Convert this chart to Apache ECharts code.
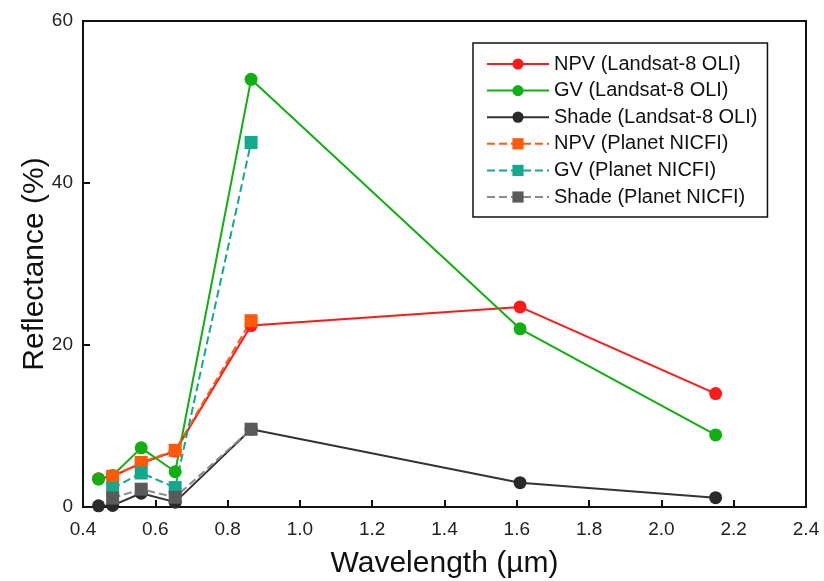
<!DOCTYPE html>
<html>
<head>
<meta charset="utf-8">
<title>Reflectance</title>
<script src="https://cdn.jsdelivr.net/npm/echarts@6/dist/echarts.min.js"></script>
</head>
<body style="margin:0">
<div id="main" style="width:824px;height:581px;"></div>
<script type="text/javascript">
// wavelengths (µm)
var wlLandsat = [0.443, 0.482, 0.561, 0.655, 0.865, 1.609, 2.15];
var wlPlanet = [0.482, 0.561, 0.655, 0.865];

// reflectance (%)
var npvLandsat = [3.5, 3.8, 5.4, 6.9, 22.4, 24.7, 14.0];
var gvLandsat = [3.45, 3.9, 7.3, 4.35, 52.8, 22.0, 8.9];
var shadeLandsat = [0.15, 0.2, 1.7, 0.6, 9.6, 3.0, 1.15];
var npvPlanet = [3.8, 5.5, 7.0, 23.0];
var gvPlanet = [2.3, 4.2, 2.4, 45.0];
var shadePlanet = [1.1, 2.2, 1.2, 9.6];

var names = [
	'NPV (Landsat-8 OLI)', 'GV (Landsat-8 OLI)', 'Shade (Landsat-8 OLI)',
	'NPV (Planet NICFI)', 'GV (Planet NICFI)', 'Shade (Planet NICFI)'
];

function pairs(xs, ys) {
	return xs.map(function(x, i) { return [x, ys[i]]; });
}

function makeSeries(name, xs, ys, lineColor, dotColor, dashed) {
	return {
		name: name,
		type: 'line',
		data: pairs(xs, ys),
		symbol: dashed ? 'rect' : 'circle',
		symbolSize: 13,
		clip: false,
		lineStyle: { color: lineColor, width: 2, type: dashed ? [8, 4] : 'solid' },
		itemStyle: { color: dotColor },
		emphasis: { disabled: true },
		animation: false
	};
}

var myChart = echarts.init(document.getElementById('main'));
var font = '"Liberation Sans", Arial, sans-serif';

var option = {
	textStyle: { fontFamily: font },
	grid: {
		left: 83, right: 18, top: 21, bottom: 74,
		outerBoundsMode: 'none',
		show: true, borderColor: '#111', borderWidth: 2
	},
	legend: {
		data: names,
		orient: 'vertical',
		left: 473, top: 43,
		padding: [11, 10, 10, 13],
		itemWidth: 62, itemHeight: 14, itemGap: 6.6,
		borderColor: '#111', borderWidth: 1.5,
		backgroundColor: '#fff',
		textStyle: { fontSize: 20, color: '#111', fontFamily: font }
	},
	xAxis: {
		type: 'value',
		min: 0.4, max: 2.4, interval: 0.2,
		name: 'Wavelength (µm)',
		nameLocation: 'middle', nameGap: 42,
		nameMoveOverlap: false,
		nameTextStyle: { fontSize: 30, color: '#111', fontFamily: font },
		axisLine: { lineStyle: { color: '#111', width: 2 } },
		axisTick: { inside: true, length: 7, lineStyle: { color: '#111', width: 2 } },
		axisLabel: {
			fontSize: 19, color: '#222', margin: 13,
			formatter: function(v) { return v.toFixed(1); }
		},
		splitLine: { show: false }
	},
	yAxis: {
		type: 'value',
		min: 0, max: 60, interval: 20,
		name: 'Reflectance (%)',
		nameLocation: 'middle', nameGap: 33,
		nameMoveOverlap: false,
		nameTextStyle: { fontSize: 30, color: '#111', fontFamily: font },
		axisLine: { lineStyle: { color: '#111', width: 2 } },
		axisTick: { inside: true, length: 7, lineStyle: { color: '#111', width: 2 } },
		axisLabel: { fontSize: 19, color: '#222', margin: 10 },
		splitLine: { show: false }
	},
	series: [
		makeSeries(names[0], wlLandsat, npvLandsat, '#ff1a1a', '#ff1a1a', false),
		makeSeries(names[1], wlLandsat, gvLandsat, '#10b010', '#10b010', false),
		makeSeries(names[2], wlLandsat, shadeLandsat, '#333333', '#2a2a2a', false),
		makeSeries(names[3], wlPlanet, npvPlanet, '#ff5a0a', '#ff5a0a', true),
		makeSeries(names[4], wlPlanet, gvPlanet, '#12a98c', '#12a98c', true),
		makeSeries(names[5], wlPlanet, shadePlanet, '#8a8a8a', '#5a5a5a', true)
	]
};

myChart.setOption(option);
</script>
</body>
</html>
